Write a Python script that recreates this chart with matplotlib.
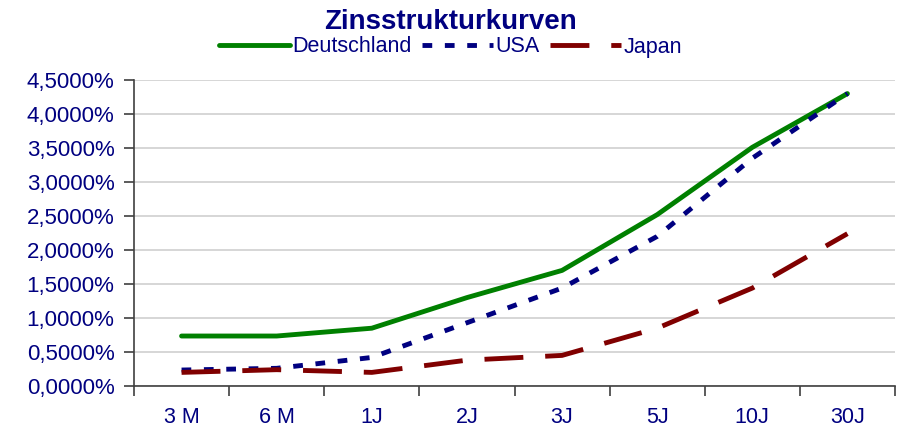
import matplotlib
matplotlib.use("Agg")
import matplotlib.pyplot as plt
from matplotlib.ticker import FuncFormatter, MultipleLocator

categories = ["3 M", "6 M", "1J", "2J", "3J", "5J", "10J", "30J"]
deutschland = [0.735, 0.735, 0.85, 1.30, 1.70, 2.52, 3.51, 4.30]
usa = [0.235, 0.26, 0.42, 0.93, 1.44, 2.20, 3.35, 4.30]
japan = [0.20, 0.24, 0.20, 0.38, 0.45, 0.85, 1.44, 2.24]

navy = "#000080"
plt.rcParams['font.family'] = ['Liberation Sans', 'DejaVu Sans']

fig = plt.figure(figsize=(9.01, 4.28), dpi=100)
ax = fig.add_axes([134/901, 1 - 386/428, (895-134)/901, (386-80)/428])

x = list(range(len(categories)))
ax.plot(x, deutschland, color="#008000", lw=3.5, solid_capstyle="round", label="Deutschland", zorder=3)
ax.plot(x, usa, color=navy, lw=3.5, dashes=(2.0, 2.6), dash_capstyle="butt", label="USA", zorder=4)
ax.plot(x, japan, color="#800000", lw=3.5, dashes=(8, 4.5), dash_capstyle="butt", label="Japan", zorder=4)

ax.set_xlim(-0.5, len(categories) - 0.5)
ax.set_ylim(0, 4.5)
ax.yaxis.set_major_locator(MultipleLocator(0.5))
ax.yaxis.set_major_formatter(FuncFormatter(lambda v, p: f"{v:.4f}".replace(".", ",") + "%"))
ax.grid(axis="y", color="#d0d0d0", lw=1.2)
ax.set_axisbelow(True)

ax.set_xticks([i + 0.5 for i in range(-1, len(categories))])
ax.set_xticklabels([])
ax.set_xticks(x, minor=True)
ax.set_xticklabels(categories, minor=True)
ax.tick_params(axis="x", which="minor", length=0, pad=15, labelsize=15.5, labelcolor=navy)
ax.tick_params(axis="x", which="major", length=7, width=1.2, color="#404040", direction="out")
ax.tick_params(axis="y", length=7, width=1.2, color="#404040", labelsize=16, labelcolor=navy, pad=7)

for s in ["top", "right"]:
    ax.spines[s].set_visible(False)
for s in ["left", "bottom"]:
    ax.spines[s].set_color("#404040")
    ax.spines[s].set_linewidth(1.2)

fig.text(0.5, 1 - 22/428, "Zinsstrukturkurven", ha="center", va="center",
         fontsize=20, fontweight="bold", color=navy)
leg = fig.legend(loc="center", bbox_to_anchor=(0.5, 1 - 47/428), ncol=3, frameon=False,
                 fontsize=15.5, handlelength=3.3, handletextpad=0.1, columnspacing=0.5,
                 labelcolor=navy, borderaxespad=0)

fig.savefig("out.png", dpi=100)
